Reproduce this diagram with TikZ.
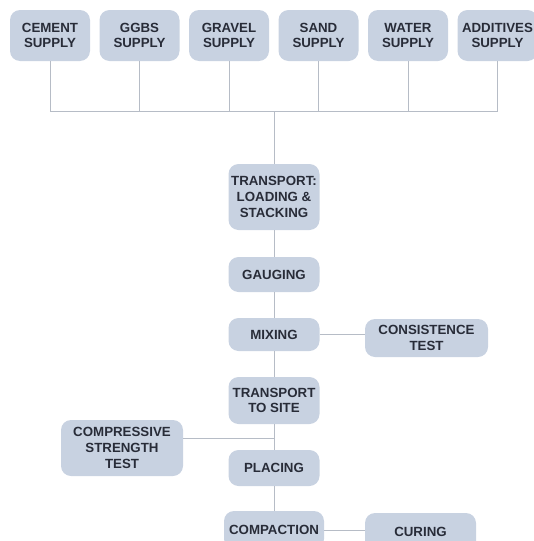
\documentclass[tikz,border=0pt]{standalone}
\usepackage{fontspec}
\setmainfont{Liberation Sans}
\definecolor{boxblue}{RGB}{200,210,225}
\definecolor{linegrey}{RGB}{182,188,198}
\definecolor{inkdark}{RGB}{40,44,56}
\tikzset{
  procnode/.style = {shape=rectangle, rounded corners=10pt, fill=boxblue,
                     align=center, inner sep=2pt, text=inkdark,
                     font=\fontsize{13.3}{15.8}\selectfont\bfseries},
  supply/.style   = {procnode, minimum width=80pt, minimum height=51pt},
  stage/.style    = {procnode, minimum width=91pt},
  test/.style     = {procnode, minimum width=122pt},
  link/.style     = {draw=linegrey, line width=0.9pt}
}
\begin{document}
\begin{tikzpicture}[x=1pt,y=-1pt]
  \useasboundingbox (0,0) rectangle (533,541);
  % supplies
  \node [supply] (cement)    at (50,35.5)    {CEMENT\\SUPPLY};
  \node [supply] (ggbs)      at (139.5,35.5) {GGBS\\SUPPLY};
  \node [supply] (gravel)    at (229,35.5)   {GRAVEL\\SUPPLY};
  \node [supply] (sand)      at (318.5,35.5) {SAND\\SUPPLY};
  \node [supply] (water)     at (408,35.5)   {WATER\\SUPPLY};
  \node [supply] (additives) at (497.5,35.5) {ADDITIVES\\SUPPLY};
  % main line
  \node [stage, minimum height=66pt] (loading) at (274,197)   {TRANSPORT:\\LOADING \&\\STACKING};
  \node [stage, minimum height=35pt] (gauging) at (274,274.5) {GAUGING};
  \node [stage, minimum height=33pt] (mixing)  at (274,334.5) {MIXING};
  \node [stage, minimum height=47pt] (site)    at (274,400.5) {TRANSPORT\\TO SITE};
  \node [stage, minimum height=36pt] (placing) at (274,468)   {PLACING};
  \node [stage, minimum width=100pt, minimum height=38pt] (compaction) at (274,530) {COMPACTION};
  % side tests
  \node [test, minimum width=123pt, minimum height=38pt] (consistence) at (426.5,338) {CONSISTENCE\\TEST};
  \node [test, minimum height=56pt] (compressive) at (122,448) {COMPRESSIVE\\STRENGTH\\TEST};
  \node [test, minimum width=111pt, minimum height=38pt] (curing) at (420.5,532) {CURING};
  % connectors
  \coordinate (bus) at (274,111);
  \foreach \s in {cement,ggbs,gravel,sand,water,additives}
    \draw [link] (\s.south) -- (\s.south |- bus);
  \draw [link] (cement.south |- bus) -- (additives.south |- bus);
  \draw [link] (bus) -- (loading.north);
  \draw [link] (loading.south) -- (gauging.north);
  \draw [link] (gauging.south) -- (mixing.north);
  \draw [link] (mixing.south) -- (site.north);
  \draw [link] (site.south) -- (placing.north);
  \draw [link] (placing.south) -- (compaction.north);
  \coordinate (tap) at (274,438);
  \draw [link] (tap) -- (compressive.east |- tap);
  \draw [link] (mixing.east) -- (consistence.west |- mixing.east);
  \draw [link] (compaction.east) -- (curing.west |- compaction.east);
\end{tikzpicture}
\end{document}
